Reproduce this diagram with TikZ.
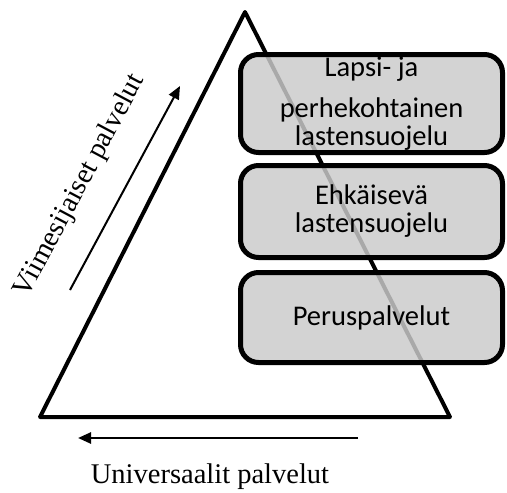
\documentclass[tikz,border=0pt]{standalone}
\usepackage{fontspec}
\setmainfont{Liberation Serif}
\newfontfamily\boxfont{Carlito}
\usetikzlibrary{arrows.meta}
\begin{document}
\begin{tikzpicture}[x=1pt,y=-1pt,
  tri/.style={line width=4pt,line join=round},
  levelbox/.style={draw=black,line width=5pt,rounded corners=18pt,fill={rgb,255:red,202;green,202;blue,202},fill opacity=0.84,text opacity=1,minimum width=262pt,align=center,font=\boxfont\fontsize{28.5}{28}\selectfont,inner sep=0pt},
  flow/.style={line width=2pt,-{Triangle[length=13pt,width=11pt]}},
  lbl/.style={font=\fontsize{28.5}{30}\selectfont,inner sep=0pt}]
\useasboundingbox (0,0) rectangle (507,493);
\coordinate (A) at (245,12);
\coordinate (B) at (40,417);
\coordinate (C) at (450,417);
\draw[tri] (A) -- (B) -- (C) -- cycle;
\node[levelbox,minimum height=98pt] (b1) at (371.5,103.5) {Lapsi- ja\\[13pt]perhekohtainen\\lastensuojelu};
\node[levelbox,minimum height=92pt] (b2) at (371.5,211.5) {Ehkäisevä\\lastensuojelu};
\node[levelbox,minimum height=90pt] (b3) at (371.5,317.5) {Peruspalvelut};
\coordinate (u1) at (70,290);
\coordinate (u2) at (180,86);
\draw[flow] (u1) -- (u2);
\coordinate (h1) at (358,438);
\coordinate (h2) at (78,438);
\draw[flow,line width=2.5pt] (h1) -- (h2);
\node[lbl,rotate=62] (vl) at (80,186) {Viimesijaiset palvelut};
\node[lbl] (ul) at (210,477) {Universaalit palvelut};
\end{tikzpicture}
\end{document}
